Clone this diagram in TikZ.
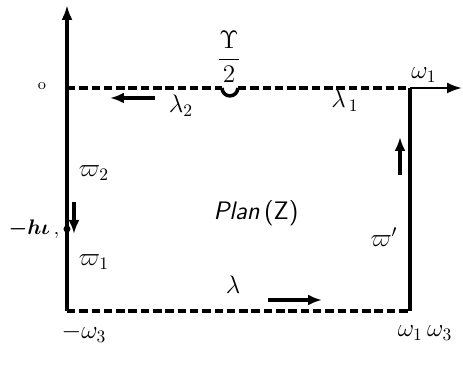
\documentclass[tikz,border=0pt]{standalone}
\usepackage{amsmath}
\usepackage{amssymb}
\usetikzlibrary{positioning,arrows.meta,calc}
\tikzset{
  side/.style    ={line width=2pt},
  cutline/.style ={line width=2pt, dash pattern=on 4.8pt off 2.2pt},
  dirarrow/.style={-{Latex[length=2.8mm,width=2.2mm]}, line width=1.8pt},
  axarrow/.style ={-{Latex[length=3mm,width=2.2mm]}, line width=1.9pt},
  lbl/.style     ={font=\Large, inner sep=1pt},
}

\begin{document}
\begin{tikzpicture}[x=0.02cm, y=-0.02cm]
\useasboundingbox (0,0) rectangle (463,377);
% corners of the rectangle
\coordinate (O)    at (67,88);
\coordinate (top)  at (67,5);
\coordinate (BL)   at (67,311);
\coordinate (BR)   at (410,311);
\coordinate (TR)   at (410,88);
\coordinate (east) at (462,88);
\coordinate (cutL) at (222,88);
\coordinate (cutR) at (238,88);
\coordinate (hpt)  at (67,229);
% sides
\draw[axarrow] (BL) -- (top);
\draw[side] (TR) -- (BR);
\draw[axarrow, line width=1.4pt] (TR) -- (east);
\draw[cutline] (O) -- (cutL);
\draw[side] (cutL) arc[start angle=180, end angle=360, radius=4.5pt];
\draw[cutline] (cutR) -- (TR);
\draw[cutline] (BL) -- (BR);
\fill (hpt) circle (2pt);
% direction arrows
\coordinate (a2s) at (155,98);  \coordinate (a2e) at (110,98);
\coordinate (ars) at (400,175); \coordinate (are) at (400,137);
\coordinate (als) at (74,202);  \coordinate (ale) at (74,234);
\coordinate (abs) at (268,300); \coordinate (abe) at (322,300);
\foreach \s/\e in {a2s/a2e,ars/are,als/ale,abs/abe}
  \draw[dirarrow] (\s) -- (\e);
% labels
\node[lbl, font=\small] (zero) at (42,86) {o};
\node[lbl] (half) at (229,57) {$\dfrac{\Upsilon}{2}$};
\node[lbl] (lam2) at (181,106) {$\lambda_2$};
\node[lbl] (lam1) at (345,101) {$\lambda_{\,1}$};
\node[lbl] (w1) at (424,75) {$\omega_1$};
\node[lbl] (pi2) at (94,173) {$\varpi_2$};
\node[lbl, font=\large\boldmath] (hl) at (34,229) {$-h\iota$\,,};
\node[lbl] (pi1) at (94,262) {$\varpi_1$};
\node[lbl, font=\Large\sffamily] (plan) at (256,213) {\textit{Plan}\,(Z)};
\node[lbl] (pip) at (384,237) {$\varpi'$};
\node[lbl] (lam) at (233,285) {$\lambda$};
\node[lbl] (w3) at (84,333) {$-\omega_3$};
\node[lbl] (w13) at (425,333) {$\omega_1\,\omega_3$};
\end{tikzpicture}
\end{document}
